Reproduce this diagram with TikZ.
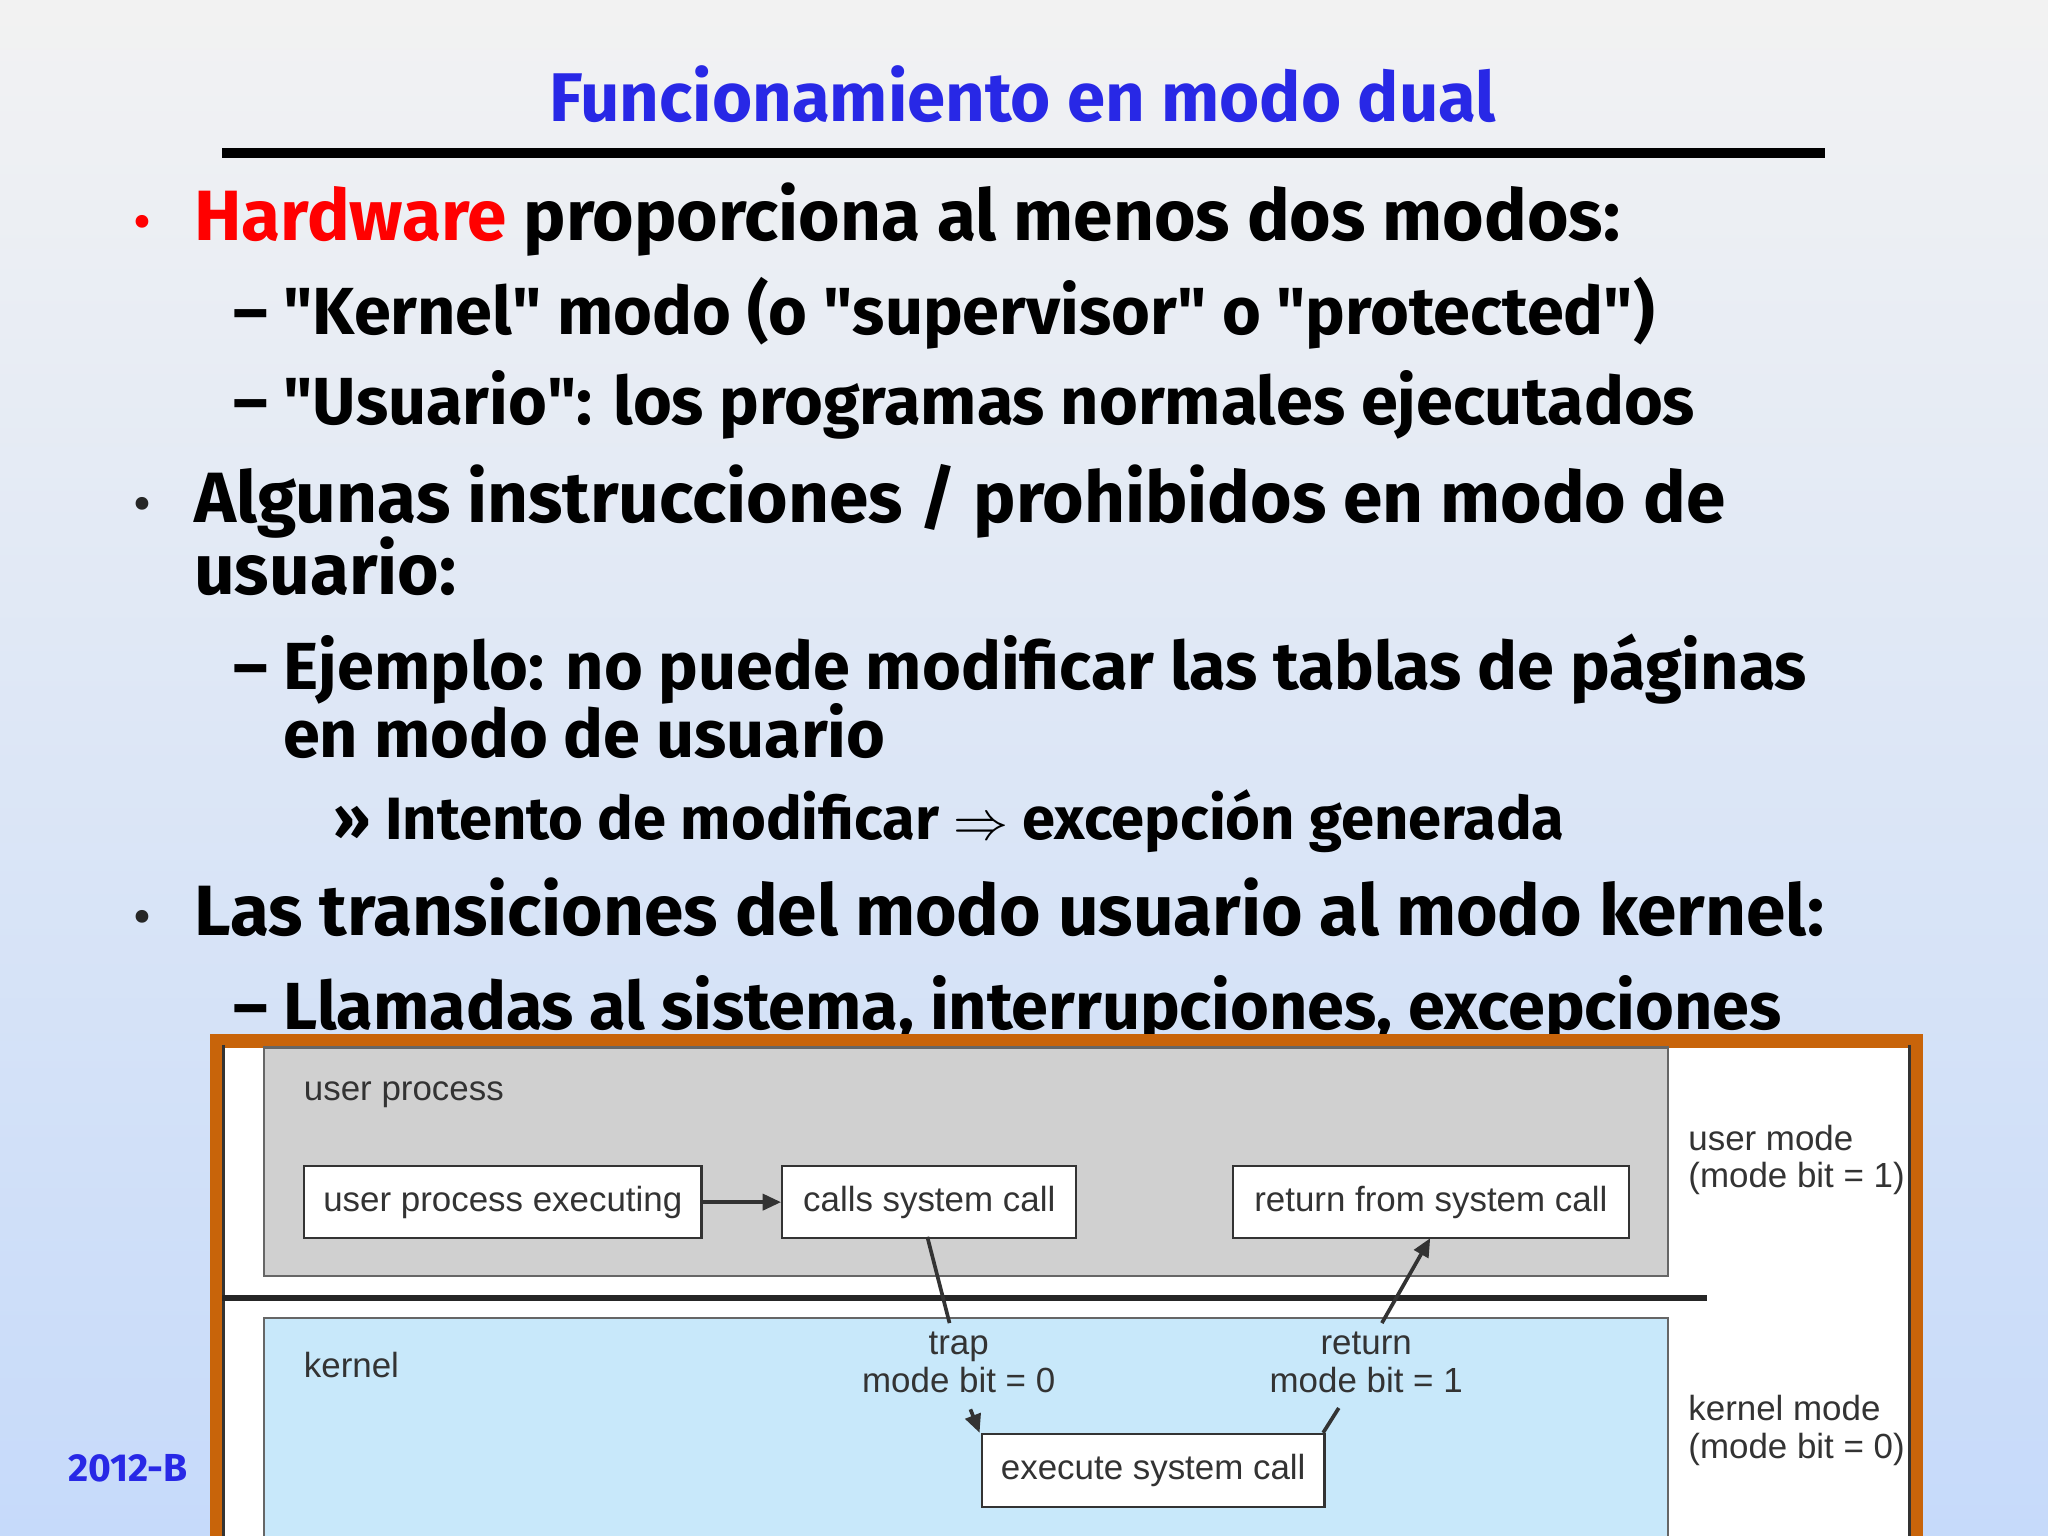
\documentclass[tikz,border=0pt]{standalone}
\usepackage{fontspec}
\setmainfont{Fira Sans}
\newfontfamily\diag{Liberation Sans}
\usetikzlibrary{arrows.meta}
\definecolor{ttl}{RGB}{40,40,230}
\definecolor{kb}{RGB}{200,232,250}
\definecolor{ub}{RGB}{208,208,208}
\definecolor{ob}{RGB}{200,100,10}
\newcommand{\q}{\textquotedbl}
\tikzset{
 txt/.style={anchor=base west,inner sep=0pt,font=\fontsize{15.5}{18}\selectfont\bfseries},
 sub/.style={anchor=base west,inner sep=0pt,font=\fontsize{14.5}{17}\selectfont\bfseries},
 bul/.style={anchor=base west,inner sep=0pt,font=\fontsize{10}{12}\selectfont\bfseries,text=black!85},
 dg/.style={inner sep=0pt,font=\diag\fontsize{7.6}{9.2}\selectfont,text=black!80},
 bx/.style={draw=black!80,fill=white,line width=0.5pt,anchor=north west,inner sep=0pt},
 con/.style={draw=black!80,line width=0.8pt},
 arr/.style={con,-{Triangle[length=4pt,width=3.5pt]}}
}
\begin{document}
\begin{tikzpicture}[x=0.01cm,y=-0.01cm]
\useasboundingbox (0,0) rectangle (1568,1176);
\shade[top color=black!5,bottom color={rgb,255:red,198;green,218;blue,250}] (0,0) rectangle (1568,1176);
\node[inner sep=0pt,text=ttl,font=\fontsize{15}{18}\selectfont\bfseries] (title) at (783,72) {Funcionamiento en modo dual};
\draw[line width=2.2pt] (170,117) -- (1397,117);
\node[bul] (b1) at (102,182) {\textcolor{red}{\textbullet}};
\node[txt] (t1) at (148,184) {\textcolor{red}{Hardware} proporciona al menos dos modos:};
\node[sub] (t2) at (178,256) {– \q Kernel\q{} modo (o \q supervisor\q{} o \q protected\q)};
\node[sub] (t3) at (178,325) {– \q Usuario\q: los programas normales ejecutados};
\node[bul] (b2) at (102,398) {\textbullet};
\node[txt] (t4) at (148,400) {Algunas instrucciones / prohibidos en modo de};
\node[txt] (t5) at (148,455) {usuario:};
\node[sub] (t6) at (178,528) {– Ejemplo: no puede modificar las tablas de páginas};
\node[sub] (t7) at (216,580) {en modo de usuario};
\node[anchor=base west,inner sep=0pt,font=\fontsize{13}{15}\selectfont\bfseries] (t8) at (255,643) {» Intento de modificar $\Rightarrow$ excepción generada};
\node[bul] (b3) at (102,714) {\textbullet};
\node[txt] (t9) at (148,716) {Las transiciones del modo usuario al modo kernel:};
\node[sub] (t10) at (178,788) {– Llamadas al sistema, interrupciones, excepciones};
\node[inner sep=0pt,text=ttl,font=\fontsize{8.5}{10}\selectfont\bfseries] (yr) at (98,1124) {2012-B};
% diagram
\fill[white] (168,798) rectangle (1466,1176);
\draw[ob,line width=3pt] (166,1180) -- (166,797) -- (1467,797) -- (1467,1180);
\draw[black!80,line width=0.8pt] (171,800) -- (171,1180);
\draw[black!80,line width=0.8pt] (1462,800) -- (1462,1180);
\draw[fill=ub,draw=black!60,line width=0.5pt] (202,802) rectangle (1277,977);
\draw[black!85,line width=1.4pt] (170,994) -- (1307,994);
\draw[fill=kb,draw=black!60,line width=0.5pt] (202,1009) rectangle (1277,1180);
\node[dg,anchor=west] (up) at (232,838) {user process};
\node[dg,anchor=west] (kn) at (232,1045) {kernel};
\node[bx,minimum width=3.04cm,minimum height=0.55cm] (upe) at (232,892) {};
\node[dg] at (upe.center) {user process executing};
\node[bx,minimum width=2.25cm,minimum height=0.55cm] (csc) at (598,892) {};
\node[dg] at (csc.center) {calls system call};
\node[bx,minimum width=3.03cm,minimum height=0.55cm] (rsc) at (943,892) {};
\node[dg] at (rsc.center) {return from system call};
\node[bx,minimum width=2.62cm,minimum height=0.56cm] (esc) at (751,1097) {};
\node[dg] at (esc.center) {execute system call};
\node[dg,align=center] (trap) at (734,1043) {trap\\[-1pt]mode bit = 0};
\node[dg,align=center] (ret) at (1046,1043) {return\\[-1pt]mode bit = 1};
\node[dg,align=left,anchor=west] (um) at (1292,888) {user mode\\[-1pt](mode bit = 1)};
\node[dg,align=left,anchor=west] (km) at (1292,1095) {kernel mode\\[-1pt](mode bit = 0)};
\coordinate (a1) at (727,1013); \coordinate (a2) at (743,1079);
\coordinate (r1) at (1025,1078); \coordinate (r2) at (1058,1013);
\draw[arr] (upe.east) -- (csc.west);
\draw[con] (710,947) -- (a1);
\draw[arr] (a2) -- (esc.north west -| 750,0);
\draw[con] (1013,1097) -- (r1);
\draw[arr] (r2) -- (1095,948);
\end{tikzpicture}
\end{document}
